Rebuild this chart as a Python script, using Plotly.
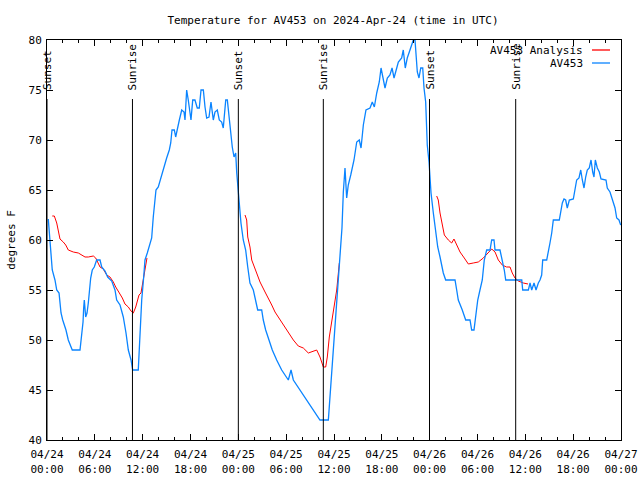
import pandas as pd
import plotly.graph_objects as go

BASE = pd.Timestamp("2024-04-24 00:00")

# Observed temperature (hours since 2024-04-24 00:00 UTC, deg F)
obs_hours = [0.16, 0.29, 0.50, 0.66, 1.00, 1.22, 1.51, 1.63, 1.76, 1.97, 2.38, 2.67, 3.17, 4.14, 4.35, 4.52,
             4.60, 4.68, 4.85, 5.02, 5.18, 5.31, 5.48, 5.68, 5.93, 6.23, 6.65, 6.86, 7.28, 7.61, 8.12, 8.53,
             8.74, 9.16, 9.57, 9.91, 10.20, 10.54, 10.75, 11.45, 11.67, 11.88, 12.13, 12.29, 12.58, 12.83,
             13.13, 13.33, 13.55, 13.67, 13.96, 14.26, 14.59, 14.84, 15.01, 15.34, 15.52, 15.68, 15.97,
             16.14, 16.34, 16.60, 16.90, 17.19, 17.31, 17.52, 17.72, 17.94, 18.06, 18.28, 18.56, 18.85,
             19.10, 19.32, 19.61, 19.82, 20.03, 20.32, 20.57, 20.86, 21.07, 21.36, 21.61, 21.91, 22.11,
             22.42, 22.62, 22.79, 23.04, 23.24, 23.46, 23.67, 23.80, 24.05, 24.33, 24.62, 24.92, 25.18,
             25.46, 25.88, 26.18, 26.43, 26.93, 27.13, 27.43, 27.85, 28.26, 28.81, 29.44, 30.27, 30.61,
             30.90, 31.74, 32.58, 33.40, 34.24, 35.29, 35.50, 35.79, 36.04, 36.34, 36.67, 36.88, 37.00,
             37.17, 37.38, 37.59, 37.79, 38.10, 38.51, 38.85, 39.17, 39.39, 39.68, 40.01, 40.52, 40.80,
             41.06, 41.36, 41.68, 41.90, 42.18, 42.40, 42.69, 43.02, 43.28, 43.53, 43.87, 44.07, 44.49,
             44.69, 44.94, 45.19, 45.53, 45.95, 46.16, 46.29, 46.45, 46.66, 46.88, 47.13, 47.29, 47.50,
             47.70, 47.92, 48.17, 48.46, 48.76, 49.01, 49.30, 49.51, 49.71, 50.01, 51.18, 51.39, 51.59,
             52.09, 52.52, 53.06, 53.27, 53.56, 53.69, 54.03, 54.31, 54.60, 54.85, 55.15, 55.57, 55.78,
             56.07, 56.20, 56.82, 57.11, 57.36, 57.54, 59.55, 59.67, 60.38, 60.59, 60.80, 61.09, 61.34,
             61.63, 61.84, 62.05, 62.18, 62.68, 62.88, 63.09, 63.31, 63.51, 64.26, 64.44, 64.64, 64.85,
             65.06, 65.26, 65.52, 66.02, 66.23, 66.44, 66.73, 66.95, 67.15, 67.36, 67.57, 67.77, 68.02,
             68.24, 68.45, 68.61, 68.78, 69.03, 69.28, 69.49, 70.12, 70.28, 70.62, 70.83, 71.03, 71.25,
             71.46, 71.75, 71.96]
obs_temps = [62.1, 60.7, 59.0, 57.0, 56.0, 55.0, 54.7, 53.7, 52.7, 52.0, 51.0, 50.0, 49.0, 49.0, 50.5, 51.8,
             53.2, 54.0, 52.3, 52.7, 53.7, 55.0, 56.2, 57.0, 57.3, 58.0, 58.0, 57.3, 56.9, 56.3, 55.9, 55.0,
             54.0, 53.5, 52.3, 50.7, 49.0, 48.0, 47.0, 47.0, 51.0, 54.0, 56.3, 58.0, 58.7, 59.5,
             60.2, 62.3, 63.7, 65.0, 65.3, 66.2, 67.2, 67.8, 68.2, 69.0, 69.7, 71.0, 71.0,
             70.3, 71.2, 72.0, 73.0, 72.8, 72.0, 75.0, 74.0, 72.7, 72.0, 74.0, 74.0, 73.2,
             73.2, 75.0, 75.0, 73.3, 72.2, 72.3, 73.8, 72.0, 72.8, 73.0, 72.0, 71.8, 71.2,
             74.0, 74.0, 72.7, 70.7, 69.3, 68.3, 68.7, 66.7, 64.3, 61.7, 60.0, 59.0, 57.3,
             55.7, 55.0, 54.0, 53.0, 53.0, 52.0, 51.0, 50.0, 49.0, 48.0, 47.0, 46.0, 47.0,
             46.0, 45.0, 44.0, 43.0, 42.0, 42.0, 44.3, 48.0, 50.3, 53.8, 57.5, 59.2, 61.2,
             64.8, 67.2, 64.2, 65.5, 66.5, 68.0, 69.8, 70.0, 69.2, 71.5, 73.0, 73.2, 73.8,
             73.3, 74.7, 75.8, 77.2, 76.2, 75.2, 76.2, 76.5, 77.2, 76.2, 77.2, 77.8, 78.2,
             79.0, 77.2, 78.2, 79.0, 80.0, 80.0, 78.8, 76.8, 76.2, 77.2, 77.2, 75.2, 73.8,
             69.5, 67.8, 64.7, 62.7, 60.7, 59.3, 58.3, 57.3, 56.7, 56.0, 56.0, 55.0, 54.0,
             53.0, 52.0, 52.0, 51.0, 51.0, 52.0, 54.0, 55.0, 56.0, 58.0, 59.0, 59.0, 60.0,
             60.0, 59.0, 59.0, 58.0, 57.0, 56.0, 56.0, 55.0, 55.0, 55.7, 55.0, 55.7, 55.0,
             55.7, 56.0, 56.5, 58.0, 58.0, 58.7, 59.7, 60.7, 62.0, 62.0, 62.8, 63.7, 64.1,
             64.0, 63.2, 64.0, 64.1, 65.0, 66.0, 66.2, 67.0, 66.0, 65.2, 66.3, 67.0, 67.2,
             68.0, 66.8, 66.3, 68.0, 67.2, 66.8, 66.1, 66.0, 65.2, 64.8, 64.2, 63.8, 63.2,
             62.2, 62.0, 61.5]

# Analysis (three overnight segments)
ana1_hours = [0.66, 0.92, 1.22, 1.42, 1.63, 2.04, 2.35, 2.67, 3.30, 3.93, 4.35, 4.77, 5.18, 5.81, 6.11, 6.36,
              6.65, 7.06, 7.49, 7.90, 8.32, 8.62, 9.03, 9.45, 9.78, 10.20, 10.54, 10.83, 11.13, 11.38, 11.54,
              11.79, 11.95, 12.13, 12.29, 12.54]
ana1_temps = [62.4, 62.4, 61.7, 60.8, 60.1, 59.8, 59.5, 59.0, 58.8, 58.7, 58.5, 58.3, 58.3, 58.4, 58.2, 57.7,
              57.3, 57.1, 56.5, 56.3, 55.8, 55.3, 54.8, 54.2, 53.6, 53.3, 52.9, 52.7, 53.3, 54.0, 54.5,
              54.7, 55.5, 56.5, 57.3, 58.2]
ana2_hours = [24.84, 25.05, 25.18, 25.46, 25.68, 26.00, 26.30, 26.72, 27.35, 27.76, 28.19, 28.60, 29.01, 29.64,
              30.27, 30.90, 31.52, 32.15, 32.78, 33.20, 33.83, 34.24, 34.66, 34.96, 35.16, 35.41, 35.71,
              36.04, 36.34, 36.67]
ana2_temps = [62.5, 62.0, 60.3, 59.3, 58.0, 57.3, 56.7, 55.8, 54.8, 54.2, 53.5, 52.8, 52.3, 51.5,
              50.7, 50.0, 49.4, 49.2, 48.7, 48.8, 49.0, 48.3, 47.3, 47.3, 48.3, 50.3, 51.8,
              53.7, 55.0, 57.7]
ana3_hours = [48.88, 49.08, 49.30, 49.59, 49.84, 50.34, 50.76, 51.05, 51.39, 51.81, 52.34, 52.85, 53.47, 54.10,
              54.73, 55.36, 55.78, 56.20, 56.61, 57.11, 57.64, 58.08, 58.36, 58.70, 59.12, 59.75, 60.34]
ana3_temps = [64.4, 64.0, 62.7, 61.3, 60.5, 60.0, 59.7, 60.1, 59.5, 58.8, 58.2, 57.6, 57.7, 57.8,
              58.2, 58.7, 59.1, 58.8, 58.0, 57.5, 57.3, 57.3, 56.7, 56.2, 55.9, 55.7, 55.6]

sun_labels = ["Sunset", "Sunrise", "Sunset", "Sunrise", "Sunset", "Sunrise"]
sun_hours = [0.0, 10.72, 24.0, 34.66, 47.98, 58.79]

y_ticks = [40, 45, 50, 55, 60, 65, 70, 75, 80]


def to_time(hours):
    return [None if h is None else BASE + pd.Timedelta(hours=h) for h in hours]


ana_hours = ana1_hours + [None] + ana2_hours + [None] + ana3_hours
ana_temps = ana1_temps + [None] + ana2_temps + [None] + ana3_temps

FONT = "DejaVu Sans Mono"
RED = "#ff0000"
BLUE = "#0a84ff"

fig = go.Figure()
fig.add_trace(go.Scatter(x=to_time(ana_hours), y=ana_temps, mode="lines", name="AV453 Analysis",
                         line=dict(color=RED, width=1), connectgaps=False))
fig.add_trace(go.Scatter(x=to_time(obs_hours), y=obs_temps, mode="lines", name="AV453",
                         line=dict(color=BLUE, width=1.3)))

for lab, h in zip(sun_labels, sun_hours):
    t = BASE + pd.Timedelta(hours=h)
    fig.add_shape(type="line", x0=t, x1=t, y0=40, y1=74.1, xref="x", yref="y",
                  line=dict(color="black", width=1))
    fig.add_annotation(x=t, y=74.8, xref="x", yref="y", text=lab, textangle=-90,
                       showarrow=False, xanchor="center", yanchor="bottom",
                       font=dict(family=FONT, size=11, color="black"))

# gnuplot-like legend: text right-aligned, sample line to the right
for i, (name, col) in enumerate([("AV453 Analysis", RED), ("AV453", BLUE)]):
    ypix = 50 + 13 * i
    yp = 1 - (ypix - 40) / 400
    fig.add_annotation(x=(585 - 47) / 574, y=yp, xref="paper", yref="paper", text=name,
                       showarrow=False, xanchor="right", yanchor="middle",
                       font=dict(family=FONT, size=11, color="black"))
    fig.add_shape(type="line", x0=(592 - 47) / 574, x1=(610 - 47) / 574, y0=yp, y1=yp,
                  xref="paper", yref="paper", line=dict(color=col, width=1.3))

fig.update_layout(
    width=640, height=480,
    margin=dict(l=47, r=19, t=40, b=40, autoexpand=False),
    paper_bgcolor="white", plot_bgcolor="white",
    showlegend=False,
    title=dict(text="Temperature for AV453 on 2024-Apr-24 (time in UTC)", x=333 / 640, xanchor="center",
               y=1 - 20 / 480, yanchor="middle", font=dict(family=FONT, size=11, color="black")),
    font=dict(family=FONT, size=11, color="black"),
)
fig.update_xaxes(
    type="date", automargin=False,
    range=[BASE, BASE + pd.Timedelta(hours=72)],
    tickvals=[BASE + pd.Timedelta(hours=6 * k) for k in range(13)],
    tickformat="%m/%d<br>%H:%M",
    ticks="inside", ticklen=6, tickcolor="black", tickwidth=1,
    ticklabelstandoff=4,
    minor=dict(dtick=2 * 3600 * 1000, ticks="inside", ticklen=3, tickcolor="black", tickwidth=1,
               showgrid=False),
    showline=True, linecolor="black", linewidth=1, mirror="allticks",
    showgrid=False, zeroline=False,
    tickfont=dict(family=FONT, size=11, color="black"),
)
fig.update_yaxes(
    range=[40, 80], tickvals=y_ticks, automargin=False,
    ticks="inside", ticklen=6, tickcolor="black", tickwidth=1,
    ticklabelstandoff=2,
    showline=True, linecolor="black", linewidth=1, mirror="allticks",
    showgrid=False, zeroline=False,
    title=dict(text="degrees F", font=dict(family=FONT, size=11, color="black"), standoff=10),
    tickfont=dict(family=FONT, size=11, color="black"),
)

fig.write_html("out.html")
